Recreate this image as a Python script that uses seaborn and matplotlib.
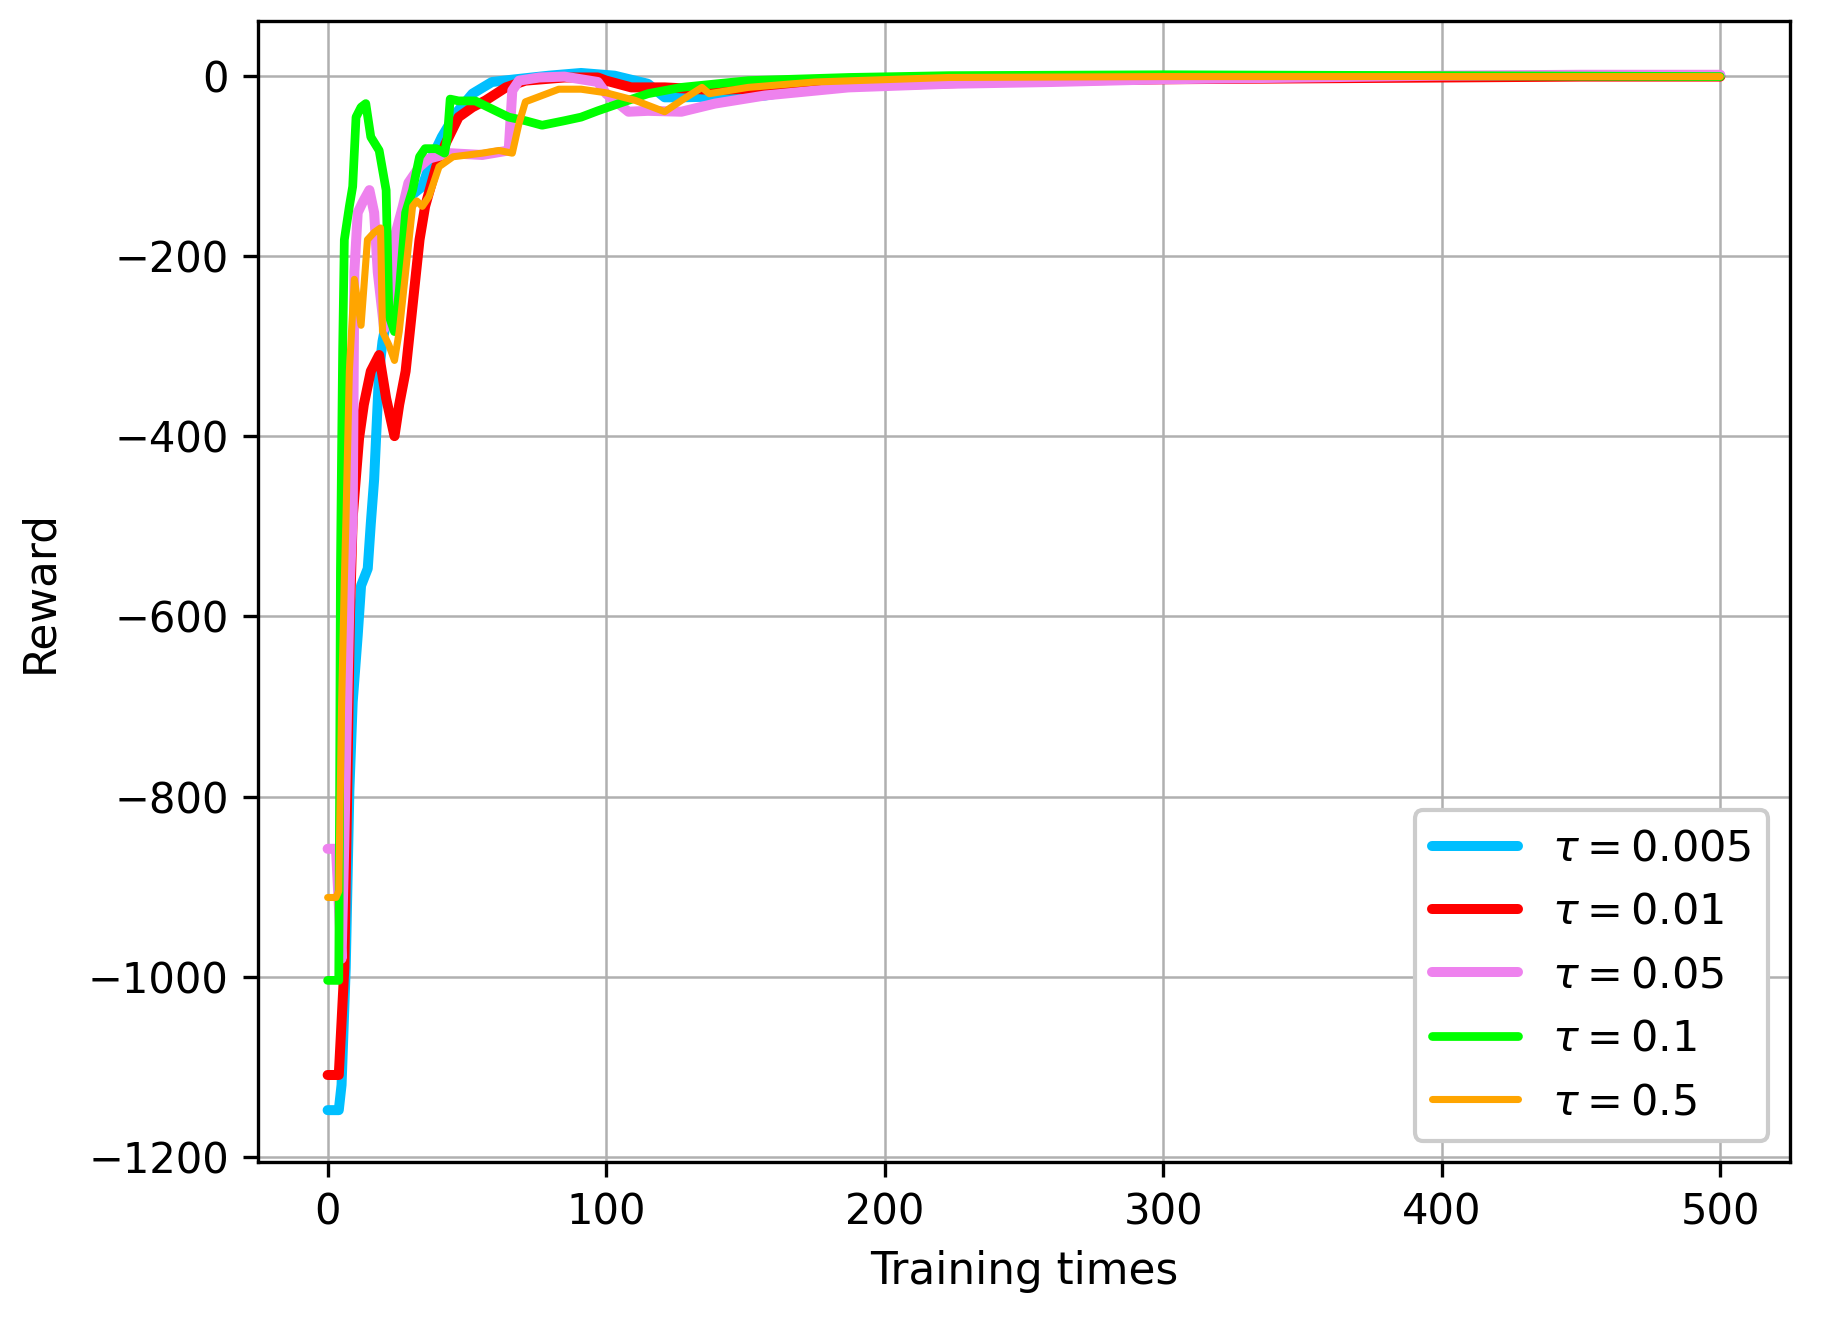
import pandas as pd
import seaborn as sns
import matplotlib.pyplot as plt

sns.set_style("ticks", {"axes.edgecolor": "black", "grid.color": "#b0b0b0",
                        "xtick.color": "black", "ytick.color": "black",
                        "axes.labelcolor": "black", "text.color": "black"})
plt.rcParams['font.family'] = ['DejaVu Sans']
plt.rcParams['mathtext.fontset'] = 'dejavusans'

# --- tau = 0.005 ---
x_005 = [0, 4, 5, 6.5, 7.8, 9, 10.8, 12, 14.4, 15.5, 16.7, 18.5, 19.7, 24.5, 28, 34, 37.6, 41, 46, 52,
         59, 67.5, 79.5, 91, 103, 115, 121, 127, 157, 175, 199, 250, 300, 350, 400, 450, 500]
y_005 = [-1148, -1148, -1120, -990, -794, -695, -621, -566, -547, -497, -448, -328, -295, -218, -138, -123, -90, -68, -42, -20,
         -7, -4, 0, 3, 0, -9, -24, -24, -22, -13, -7, -4, -2, -1, -1, 0, 0]

# --- tau = 0.01 ---
x_01 = [0, 4, 5, 6, 7, 8, 9, 11.3, 13, 15.5, 18.5, 21, 24, 25.7, 28, 30.5, 33, 35, 39, 42.4, 47, 52,
        56.7, 64, 71, 85, 97, 100, 109, 121, 139, 163, 205, 250, 300, 350, 400, 450, 500]
y_01 = [-1109, -1109, -1050, -990, -800, -600, -490, -402, -365, -328, -310, -358, -400, -365, -328, -255, -182, -145, -101, -75, -46, -35,
        -27.5, -13, -5.5, -2, -2, -5.5, -13, -13, -16, -13, -10, -6, -4, -3, -2, -1, -1]

# --- tau = 0.05 ---
x_05 = [0, 3, 5, 6, 7, 8, 9, 9.6, 10.8, 12.5, 15, 16.7, 18, 20.3, 22.7, 24.5, 27, 29, 33, 36.4, 43.6, 55.5, 65,
        66.3, 68.7, 76, 85, 97, 100, 108, 115, 127, 139, 157, 187, 223, 260, 300, 350, 400, 450, 500]
y_05 = [-858, -858, -980, -850, -700, -560, -490, -218, -152, -141, -127, -152, -218, -281, -255, -174, -145, -119, -101, -92, -86, -88, -83,
        -16.5, -5.5, -2, -1, -7, -20, -40, -39, -40, -31, -22, -13, -9, -7, -4, -2, 0, 1, 1]

# --- tau = 0.1 ---
x_1 = [0, 4, 4.3, 4.6, 5, 5.4, 6, 7.8, 9, 10.2, 12, 13.7, 15.5, 18.5, 21, 22, 24, 25.7, 28, 30.5, 33, 35, 39, 42, 43, 44,
       47, 53, 59, 65, 71, 77, 85, 91, 97, 104.5, 115, 127, 151, 187, 223, 300, 400, 500]
y_1 = [-1004, -1004, -800, -550, -420, -303, -182, -145, -123, -46, -35, -31, -68, -83, -127, -266, -284, -240, -152, -127, -90, -81, -81, -86, -68, -26,
       -28, -28, -37, -46, -50, -55, -50, -46, -39, -31, -20, -13, -5.5, -2, 0, 1, 0, -1]

# --- tau = 0.5 ---
x_5 = [0, 3, 4, 5, 6, 6.6, 7.8, 9.6, 12, 14.3, 16.7, 19, 19.7, 22, 24, 25.7, 28, 30.5, 32, 34, 36.4, 40, 45, 55.5, 61.5,
       66.3, 68.7, 71, 77, 83, 91, 100, 110.5, 121, 127, 134.4, 137, 151, 175, 223, 300, 400, 450, 500]
y_5 = [-912, -912, -905, -700, -560, -490, -328, -226, -277, -182, -174, -169, -284, -299, -316, -284, -218, -145, -139, -145, -134, -101, -90, -86, -83,
       -86, -53, -29, -22, -15, -15, -19, -27.5, -40, -27.5, -13, -20, -13, -7, -2, -1, -1, -1, -1]

labels = [r'$\tau=0.005$', r'$\tau=0.01$', r'$\tau=0.05$', r'$\tau=0.1$', r'$\tau=0.5$']
colors = ['deepskyblue', 'red', 'violet', 'lime', 'orange']
widths = [2.4, 2.4, 2.4, 2.1, 1.7]
xs = [x_005, x_01, x_05, x_1, x_5]
ys = [y_005, y_01, y_05, y_1, y_5]

fig = plt.figure(figsize=(1822 / 300, 1320 / 300), dpi=300)
ax = fig.add_subplot(111)
fig.subplots_adjust(left=0.1416, right=0.9824, top=0.984, bottom=0.1197)

for xv, yv, lab, c, w in zip(xs, ys, labels, colors, widths):
    df = pd.DataFrame({'x': xv, 'y': yv})
    sns.lineplot(data=df, x='x', y='y', color=c, lw=w, label=lab, sort=False, estimator=None, ax=ax)

ax.grid(True, color='#b0b0b0', lw=0.6)
ax.set_xlabel("Training times", fontsize=10.5)
ax.set_ylabel("Reward", fontsize=10.5, labelpad=6.5)
ax.tick_params(labelsize=10, length=3.5, width=0.8)
ax.set_xticks([0, 100, 200, 300, 400, 500])
ax.set_yticks([-1200, -1000, -800, -600, -400, -200, 0])
for s in ax.spines.values():
    s.set_linewidth(0.8)
leg = ax.legend(loc='lower right', fontsize=10.3, framealpha=1, edgecolor='0.8', fancybox=True)
plt.savefig("out.png", dpi=300)
